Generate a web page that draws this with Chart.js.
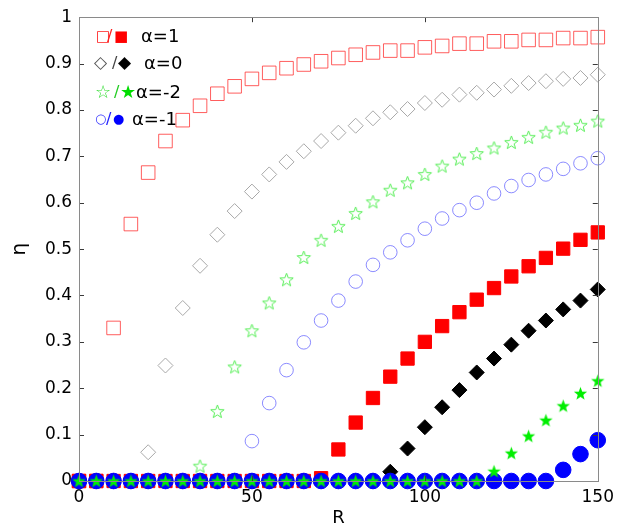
<!DOCTYPE html>
<html>
<head>
<meta charset="utf-8">
<script src="https://cdn.jsdelivr.net/npm/chart.js@4.4.0/dist/chart.umd.min.js"></script>
<style>
  html, body { margin: 0; padding: 0; background: #fff; }
  #wrap { width: 620px; height: 529px; }
</style>
</head>
<body>
<div id="wrap"><canvas id="etaChart" width="620" height="529"></canvas></div>
<script>
// ---- data (R = 0..150 step 5) ----
const R = [0, 5, 10, 15, 20, 25, 30, 35, 40, 45, 50, 55, 60, 65, 70, 75,
  80, 85, 90, 95, 100, 105, 110, 115, 120, 125, 130, 135, 140, 145, 150];

// α=1 (open / filled squares)
const etaA1Open = [0, 0, 0.330, 0.554, 0.665, 0.733, 0.778, 0.809, 0.835, 0.851, 0.867,
  0.880, 0.890, 0.898, 0.905, 0.912, 0.919, 0.924, 0.928, 0.928, 0.935,
  0.938, 0.943, 0.943, 0.948, 0.948, 0.951, 0.951, 0.955, 0.955, 0.957];
const etaA1Filled = [0, 0, 0, 0, 0, 0, 0, 0, 0, 0, 0, 0, 0, 0, 0.006, 0.068,
  0.126, 0.179, 0.225, 0.264, 0.300, 0.334, 0.364, 0.391, 0.416, 0.441,
  0.463, 0.481, 0.501, 0.520, 0.536];

// α=0 (open / filled diamonds)
const etaA0Open = [0, 0, 0, 0, 0.062, 0.249, 0.373, 0.464, 0.531, 0.582, 0.624,
  0.661, 0.688, 0.711, 0.733, 0.751, 0.766, 0.782, 0.795, 0.802, 0.815,
  0.822, 0.833, 0.837, 0.844, 0.852, 0.858, 0.862, 0.867, 0.869, 0.876];
const etaA0Filled = [0, 0, 0, 0, 0, 0, 0, 0, 0, 0, 0, 0, 0, 0, 0, 0, 0, 0,
  0.020, 0.070, 0.116, 0.159, 0.196, 0.234, 0.264, 0.294, 0.324, 0.346,
  0.370, 0.389, 0.413];

// α=-2 (open / filled stars)
const etaAm2Open = [0, 0, 0, 0, 0, 0, 0, 0.032, 0.150, 0.246, 0.324, 0.384,
  0.434, 0.482, 0.519, 0.549, 0.577, 0.602, 0.627, 0.643, 0.661, 0.679,
  0.694, 0.706, 0.718, 0.730, 0.741, 0.752, 0.761, 0.767, 0.776];
const etaAm2Filled = [0, 0, 0, 0, 0, 0, 0, 0, 0, 0, 0, 0, 0, 0, 0, 0, 0, 0,
  0, 0, 0, 0, 0, 0, 0.021, 0.060, 0.097, 0.131, 0.162, 0.189, 0.216];

// α=-1 (open / filled circles)
const etaAm1Open = [0, 0, 0, 0, 0, 0, 0, 0, 0, 0, 0.086, 0.168, 0.239, 0.299,
  0.346, 0.389, 0.430, 0.466, 0.493, 0.519, 0.544, 0.566, 0.584, 0.600,
  0.620, 0.636, 0.649, 0.661, 0.673, 0.685, 0.696];
const etaAm1Filled = [0, 0, 0, 0, 0, 0, 0, 0, 0, 0, 0, 0, 0, 0, 0, 0, 0, 0,
  0, 0, 0, 0, 0, 0, 0, 0, 0, 0, 0.024, 0.058, 0.088];

// tick labels
const xTickValues = [0, 50, 100, 150];
const yTickValues = [0, 0.1, 0.2, 0.3, 0.4, 0.5, 0.6, 0.7, 0.8, 0.9, 1];
const yTickLabels = ['0', '0.1', '0.2', '0.3', '0.4', '0.5', '0.6', '0.7', '0.8', '0.9', '1'];

const FONT = '"DejaVu Sans", "Liberation Sans", sans-serif';

// ---- 星形マーカー ----
function makeStar(outer, inner, fill, stroke) {
  const size = Math.ceil(outer * 2 + 3);
  const c = document.createElement('canvas');
  c.width = size;
  c.height = size;
  const ctx = c.getContext('2d');
  const cx = size / 2, cy = size / 2 + 0.5;
  ctx.beginPath();
  for (let i = 0; i < 10; i++) {
    const r = i % 2 === 0 ? outer : inner;
    const a = -Math.PI / 2 + i * Math.PI / 5;
    const px = cx + r * Math.cos(a), py = cy + r * Math.sin(a);
    if (i === 0) ctx.moveTo(px, py); else ctx.lineTo(px, py);
  }
  ctx.closePath();
  if (fill) { ctx.fillStyle = fill; ctx.fill(); }
  if (stroke) { ctx.strokeStyle = stroke; ctx.lineWidth = 1; ctx.stroke(); }
  return c;
}
const starFilled = makeStar(7, 2.9, '#00ee00', null);
const starOpen = makeStar(7, 2.9, null, '#55ee55');

function pts(ys) {
  return R.map((r, i) => ({ x: r, y: ys[i] }));
}

function series(label, ys, style) {
  return Object.assign({
    label,
    data: pts(ys),
    showLine: false,
    clip: false,
    borderWidth: 1,
    pointHoverRadius: 0,
  }, style);
}

// first dataset is drawn on top
const datasets = [
  series('α=-2 filled', etaAm2Filled, { pointStyle: starFilled, pointRadius: 7 }),
  series('α=-1 filled', etaAm1Filled, { pointStyle: 'circle', pointRadius: 7.8, backgroundColor: '#0000ff', borderColor: '#0000ff' }),
  series('α=0 filled', etaA0Filled, { pointStyle: 'rectRot', pointRadius: 7.5, backgroundColor: '#000', borderColor: '#000' }),
  series('α=1 filled', etaA1Filled, { pointStyle: 'rect', pointRadius: 9.4, backgroundColor: '#ff0000', borderColor: '#ff0000' }),
  series('α=1 open', etaA1Open, { pointStyle: 'rect', pointRadius: 9.6, backgroundColor: 'rgba(0,0,0,0)', borderColor: 'rgba(255,40,40,0.75)' }),
  series('α=0 open', etaA0Open, { pointStyle: 'rectRot', pointRadius: 7.5, backgroundColor: 'rgba(0,0,0,0)', borderColor: '#a8a8a8' }),
  series('α=-2 open', etaAm2Open, { pointStyle: starOpen, pointRadius: 7 }),
  series('α=-1 open', etaAm1Open, { pointStyle: 'circle', pointRadius: 6.8, backgroundColor: 'rgba(0,0,0,0)', borderColor: 'rgba(90,90,255,0.7)' }),
];

// ---- 枠と内向き目盛 ----
const frameTicks = {
  id: 'frameTicks',
  afterDatasetsDraw(chart) {
    const { ctx, chartArea: a, scales } = chart;
    ctx.save();
    ctx.lineWidth = 1;
    ctx.strokeStyle = '#3a3a3a';
    const L = 5;
    ctx.beginPath();
    xTickValues.forEach(v => {
      const x = Math.round(scales.x.getPixelForValue(v)) + 0.5;
      ctx.moveTo(x, a.bottom); ctx.lineTo(x, a.bottom - L);
      ctx.moveTo(x, a.top); ctx.lineTo(x, a.top + L);
    });
    yTickValues.forEach(v => {
      const y = Math.round(scales.y.getPixelForValue(v)) + 0.5;
      ctx.moveTo(a.left, y); ctx.lineTo(a.left + L, y);
      ctx.moveTo(a.right, y); ctx.lineTo(a.right - L, y);
    });
    ctx.stroke();
    ctx.strokeStyle = '#8a8a8a';
    ctx.strokeRect(Math.round(a.left) + 0.5, Math.round(a.top) + 0.5,
      Math.round(a.right - a.left), Math.round(a.bottom - a.top));
    ctx.restore();
  },
  afterDraw(chart) {
    // 凡例（テキスト）
    const ctx = chart.ctx;
    const rows = [
      { y: 37, glyphs: [['\u25A1', 96, 15, '#ff2020'], ['/', 107, 16, '#ff2020'], ['\u25A0', 114, 15, '#ff0000']], text: 'α=1', tx: 141 },
      { y: 64, glyphs: [['\u25C7', 94, 17, '#555'], ['/', 112, 16, '#444'], ['\u25C6', 118, 17, '#000']], text: 'α=0', tx: 144 },
      { y: 93, glyphs: [['\u2606', 95, 18, '#33dd33'], ['/', 114, 16, '#22cc22'], ['\u2605', 120, 18, '#00dd00']], text: 'α=-2', tx: 136 },
      { y: 120, glyphs: [['\u25CB', 95, 13, '#3333ff'], ['/', 106, 16, '#2222ff'], ['\u25CF', 113, 13, '#0000ff']], text: 'α=-1', tx: 132 },
    ];
    ctx.save();
    ctx.textBaseline = 'middle';
    ctx.textAlign = 'left';
    rows.forEach(row => {
      row.glyphs.forEach(([g, x, size, color]) => {
        ctx.font = `${size}px ${FONT}`;
        ctx.fillStyle = color;
        ctx.fillText(g, x, row.y);
      });
      ctx.font = `18px ${FONT}`;
      ctx.fillStyle = '#000';
      ctx.fillText(row.text, row.tx, row.y);
    });
    ctx.restore();
  }
};

new Chart(document.getElementById('etaChart'), {
  type: 'scatter',
  data: { datasets },
  options: {
    responsive: false,
    animation: false,
    events: [],
    layout: { padding: { top: 13, right: 19, left: 0, bottom: 0 } },
    plugins: { legend: { display: false }, tooltip: { enabled: false } },
    scales: {
      x: {
        type: 'linear',
        min: 0,
        max: 150,
        afterBuildTicks: s => { s.ticks = xTickValues.map(v => ({ value: v })); },
        afterFit: s => { s.height = 48; },
        grid: { display: false, drawTicks: false },
        border: { display: false },
        ticks: { color: '#000', font: { family: FONT, size: 17 }, padding: 6, maxRotation: 0 },
        title: { display: true, text: 'R', color: '#000', font: { family: FONT, size: 18 }, padding: { top: 0, bottom: 0 } }
      },
      y: {
        type: 'linear',
        min: 0,
        max: 1,
        afterBuildTicks: s => { s.ticks = yTickValues.map(v => ({ value: v })); },
        afterFit: s => { s.width = 79; },
        grid: { display: false, drawTicks: false },
        border: { display: false },
        ticks: {
          color: '#000',
          font: { family: FONT, size: 17 },
          padding: 7,
          callback: (v, i) => yTickLabels[i]
        },
        title: { display: true, text: 'η', color: '#000', font: { family: FONT, size: 20 }, padding: { top: 8, bottom: 0 } }
      }
    }
  },
  plugins: [frameTicks]
});
</script>
</body>
</html>
